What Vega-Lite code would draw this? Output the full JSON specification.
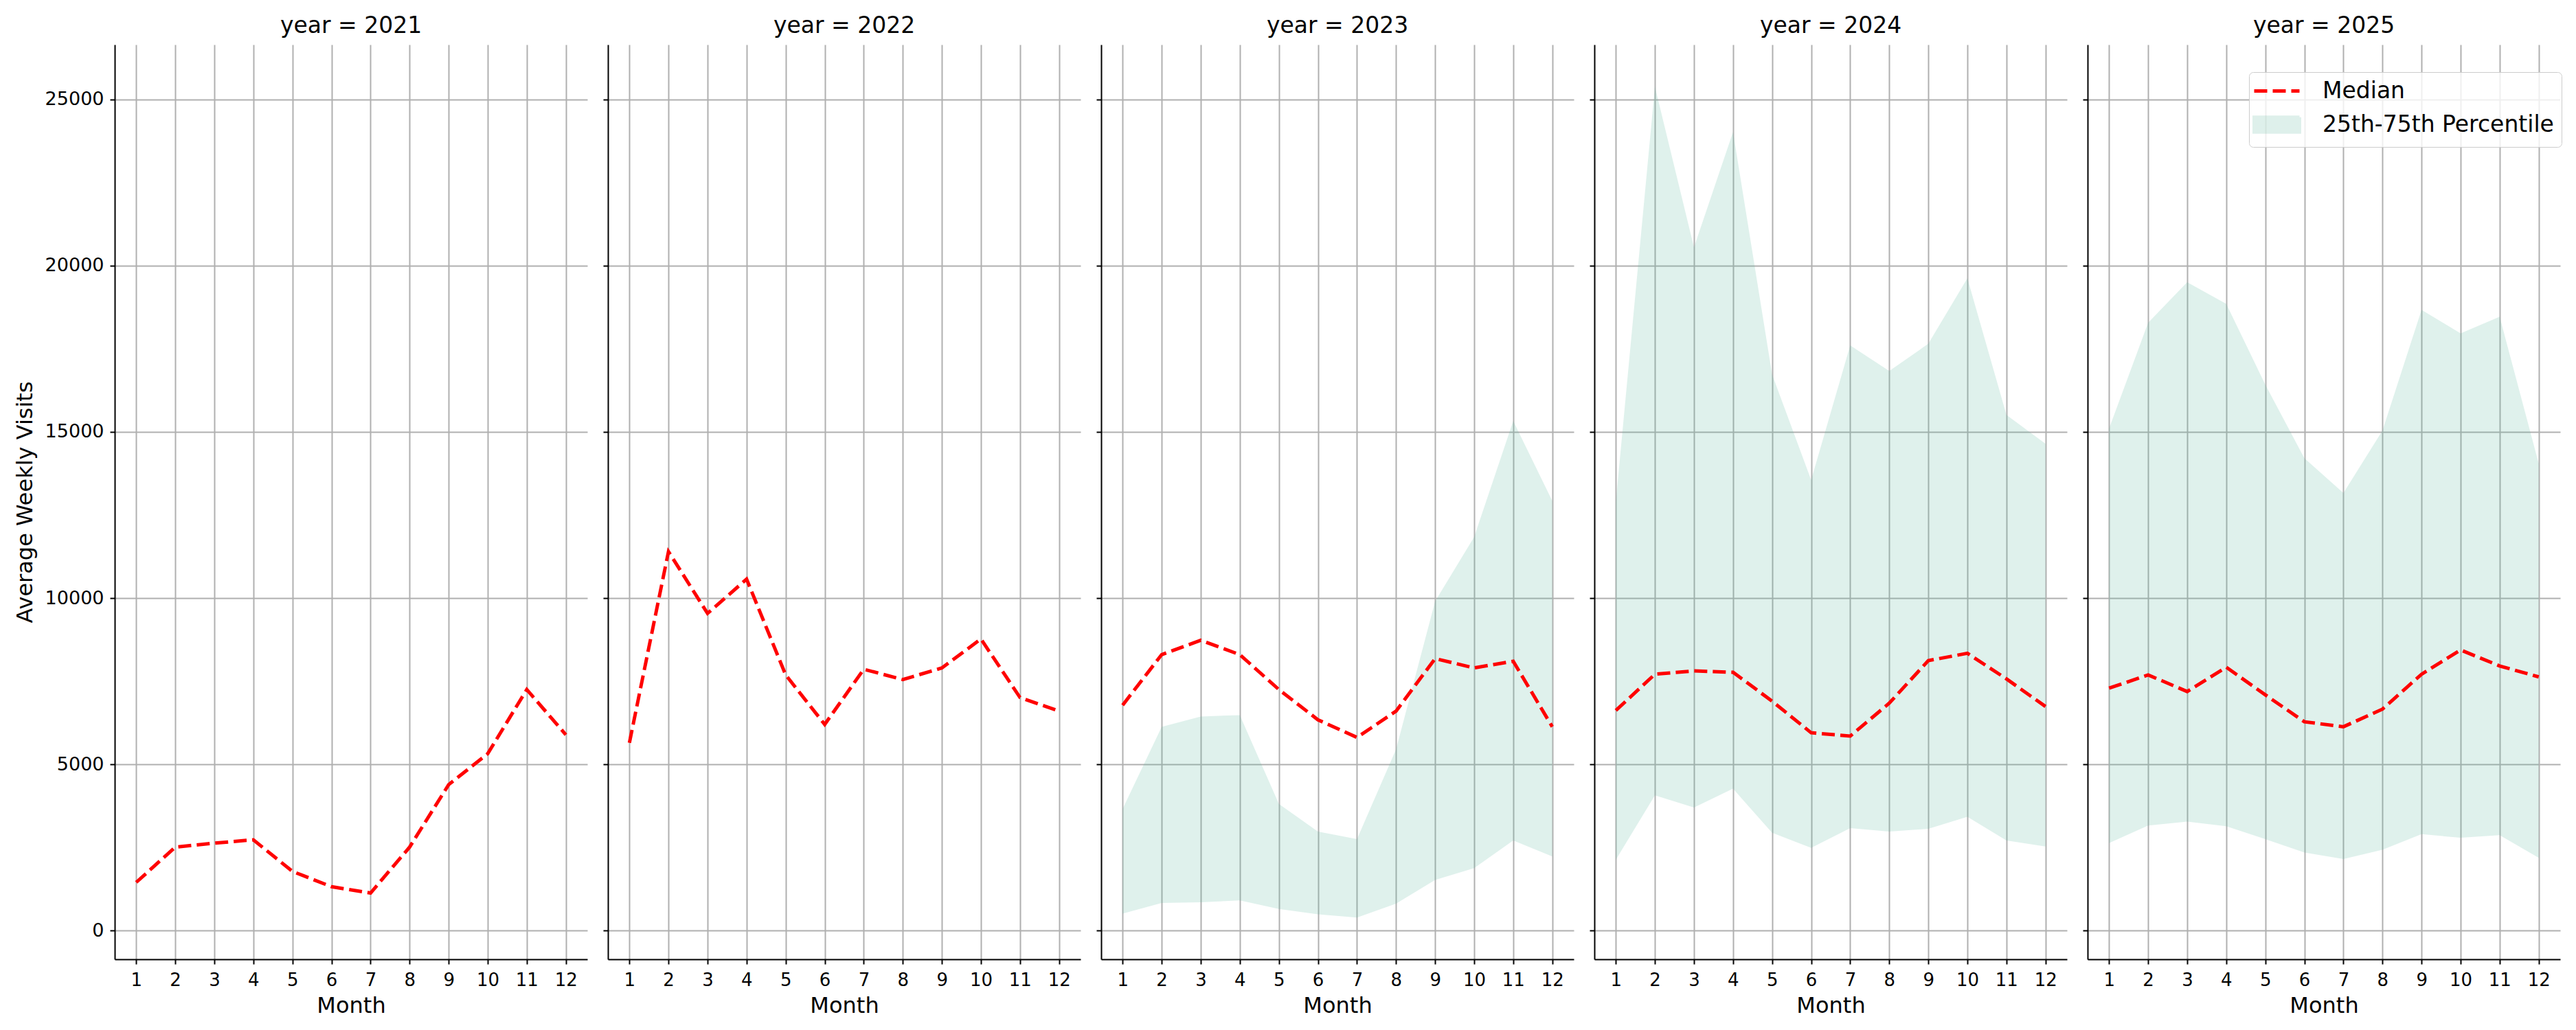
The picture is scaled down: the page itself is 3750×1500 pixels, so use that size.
{
  "$schema": "https://vega.github.io/schema/vega-lite/v6.json",
  "background": "white",
  "padding": {"left": 20, "top": 22, "right": 10, "bottom": 10},
  "spacing": 30,
  "bounds": "flush",
  "data": {
    "values": [
      {"year": 2021, "month": 1, "median": 1450},
      {"year": 2021, "month": 2, "median": 2510},
      {"year": 2021, "month": 3, "median": 2630},
      {"year": 2021, "month": 4, "median": 2730},
      {"year": 2021, "month": 5, "median": 1780},
      {"year": 2021, "month": 6, "median": 1320},
      {"year": 2021, "month": 7, "median": 1130},
      {"year": 2021, "month": 8, "median": 2510},
      {"year": 2021, "month": 9, "median": 4390},
      {"year": 2021, "month": 10, "median": 5320},
      {"year": 2021, "month": 11, "median": 7250},
      {"year": 2021, "month": 12, "median": 5890},
      {"year": 2022, "month": 1, "median": 5650},
      {"year": 2022, "month": 2, "median": 11400},
      {"year": 2022, "month": 3, "median": 9540},
      {"year": 2022, "month": 4, "median": 10570},
      {"year": 2022, "month": 5, "median": 7690},
      {"year": 2022, "month": 6, "median": 6200},
      {"year": 2022, "month": 7, "median": 7860},
      {"year": 2022, "month": 8, "median": 7550},
      {"year": 2022, "month": 9, "median": 7900},
      {"year": 2022, "month": 10, "median": 8770},
      {"year": 2022, "month": 11, "median": 7010},
      {"year": 2022, "month": 12, "median": 6600},
      {"year": 2023, "month": 1, "median": 6780, "p25": 510, "p75": 3660},
      {"year": 2023, "month": 2, "median": 8300, "p25": 830, "p75": 6130},
      {"year": 2023, "month": 3, "median": 8730, "p25": 850, "p75": 6440},
      {"year": 2023, "month": 4, "median": 8300, "p25": 910, "p75": 6480},
      {"year": 2023, "month": 5, "median": 7250, "p25": 650, "p75": 3810},
      {"year": 2023, "month": 6, "median": 6340, "p25": 490, "p75": 2980},
      {"year": 2023, "month": 7, "median": 5810, "p25": 390, "p75": 2750},
      {"year": 2023, "month": 8, "median": 6600, "p25": 810, "p75": 5450},
      {"year": 2023, "month": 9, "median": 8180, "p25": 1520, "p75": 9900},
      {"year": 2023, "month": 10, "median": 7900, "p25": 1880, "p75": 11840},
      {"year": 2023, "month": 11, "median": 8100, "p25": 2710, "p75": 15330},
      {"year": 2023, "month": 12, "median": 6130, "p25": 2230, "p75": 12920},
      {"year": 2024, "month": 1, "median": 6620, "p25": 2130, "p75": 12900},
      {"year": 2024, "month": 2, "median": 7710, "p25": 4070, "p75": 25380},
      {"year": 2024, "month": 3, "median": 7810, "p25": 3700, "p75": 20550},
      {"year": 2024, "month": 4, "median": 7770, "p25": 4270, "p75": 24020},
      {"year": 2024, "month": 5, "median": 6900, "p25": 2940, "p75": 16730},
      {"year": 2024, "month": 6, "median": 5950, "p25": 2490, "p75": 13550},
      {"year": 2024, "month": 7, "median": 5850, "p25": 3080, "p75": 17600},
      {"year": 2024, "month": 8, "median": 6840, "p25": 2980, "p75": 16830},
      {"year": 2024, "month": 9, "median": 8120, "p25": 3060, "p75": 17650},
      {"year": 2024, "month": 10, "median": 8340, "p25": 3420, "p75": 19620},
      {"year": 2024, "month": 11, "median": 7570, "p25": 2710, "p75": 15510},
      {"year": 2024, "month": 12, "median": 6740, "p25": 2530, "p75": 14640},
      {"year": 2025, "month": 1, "median": 7290, "p25": 2630, "p75": 15100},
      {"year": 2025, "month": 2, "median": 7690, "p25": 3160, "p75": 18280},
      {"year": 2025, "month": 3, "median": 7190, "p25": 3280, "p75": 19500},
      {"year": 2025, "month": 4, "median": 7920, "p25": 3140, "p75": 18850},
      {"year": 2025, "month": 5, "median": 7090, "p25": 2750, "p75": 16420},
      {"year": 2025, "month": 6, "median": 6280, "p25": 2350, "p75": 14210},
      {"year": 2025, "month": 7, "median": 6130, "p25": 2150, "p75": 13160},
      {"year": 2025, "month": 8, "median": 6660, "p25": 2430, "p75": 15040},
      {"year": 2025, "month": 9, "median": 7710, "p25": 2900, "p75": 18670},
      {"year": 2025, "month": 10, "median": 8440, "p25": 2790, "p75": 17960},
      {"year": 2025, "month": 11, "median": 7960, "p25": 2870, "p75": 18460},
      {"year": 2025, "month": 12, "median": 7630, "p25": 2190, "p75": 14050}
    ]
  },
  "hconcat": [
    {
      "title": "year = 2021",
      "width": 688,
      "height": 1332,
      "transform": [{"filter": "datum.year === 2021"}],
      "layer": [
        {
          "mark": {"type": "line", "color": "#ff0000", "strokeWidth": 5, "strokeDash": [19, 8]},
          "encoding": {
            "x": {"field": "month", "type": "quantitative", "title": "Month", "scale": {"domain": [0.45, 12.55], "nice": false, "zero": false}, "axis": {"values": [1, 2, 3, 4, 5, 6, 7, 8, 9, 10, 11, 12], "format": "d"}},
            "y": {"field": "median", "type": "quantitative", "title": "Average Weekly Visits", "scale": {"domain": [-863, 26646], "nice": false, "zero": false}, "axis": {"values": [0, 5000, 10000, 15000, 20000, 25000], "format": "d"}}
          }
        }
      ]
    },
    {
      "title": "year = 2022",
      "width": 688,
      "height": 1332,
      "transform": [{"filter": "datum.year === 2022"}],
      "layer": [
        {
          "mark": {"type": "line", "color": "#ff0000", "strokeWidth": 5, "strokeDash": [19, 8]},
          "encoding": {
            "x": {"field": "month", "type": "quantitative", "title": "Month", "scale": {"domain": [0.45, 12.55], "nice": false, "zero": false}, "axis": {"values": [1, 2, 3, 4, 5, 6, 7, 8, 9, 10, 11, 12], "format": "d"}},
            "y": {"field": "median", "type": "quantitative", "title": null, "scale": {"domain": [-863, 26646], "nice": false, "zero": false}, "axis": {"values": [0, 5000, 10000, 15000, 20000, 25000], "labels": false}}
          }
        }
      ]
    },
    {
      "title": "year = 2023",
      "width": 688,
      "height": 1332,
      "transform": [{"filter": "datum.year === 2023"}],
      "layer": [
        {
          "mark": {"type": "area", "color": "#5fb89e", "opacity": 0.2},
          "encoding": {
            "x": {"field": "month", "type": "quantitative", "title": "Month", "scale": {"domain": [0.45, 12.55], "nice": false, "zero": false}, "axis": {"values": [1, 2, 3, 4, 5, 6, 7, 8, 9, 10, 11, 12], "format": "d"}},
            "y": {"field": "p25", "type": "quantitative", "title": null, "scale": {"domain": [-863, 26646], "nice": false, "zero": false}, "axis": {"values": [0, 5000, 10000, 15000, 20000, 25000], "labels": false}},
            "y2": {"field": "p75"}
          }
        },
        {
          "mark": {"type": "line", "color": "#ff0000", "strokeWidth": 5, "strokeDash": [19, 8]},
          "encoding": {
            "x": {"field": "month", "type": "quantitative"},
            "y": {"field": "median", "type": "quantitative"}
          }
        }
      ]
    },
    {
      "title": "year = 2024",
      "width": 688,
      "height": 1332,
      "transform": [{"filter": "datum.year === 2024"}],
      "layer": [
        {
          "mark": {"type": "area", "color": "#5fb89e", "opacity": 0.2},
          "encoding": {
            "x": {"field": "month", "type": "quantitative", "title": "Month", "scale": {"domain": [0.45, 12.55], "nice": false, "zero": false}, "axis": {"values": [1, 2, 3, 4, 5, 6, 7, 8, 9, 10, 11, 12], "format": "d"}},
            "y": {"field": "p25", "type": "quantitative", "title": null, "scale": {"domain": [-863, 26646], "nice": false, "zero": false}, "axis": {"values": [0, 5000, 10000, 15000, 20000, 25000], "labels": false}},
            "y2": {"field": "p75"}
          }
        },
        {
          "mark": {"type": "line", "color": "#ff0000", "strokeWidth": 5, "strokeDash": [19, 8]},
          "encoding": {
            "x": {"field": "month", "type": "quantitative"},
            "y": {"field": "median", "type": "quantitative"}
          }
        }
      ]
    },
    {
      "title": "year = 2025",
      "width": 688,
      "height": 1332,
      "transform": [{"filter": "datum.year === 2025"}],
      "layer": [
        {
          "mark": {"type": "area", "opacity": 0.2},
          "encoding": {
            "x": {"field": "month", "type": "quantitative", "title": "Month", "scale": {"domain": [0.45, 12.55], "nice": false, "zero": false}, "axis": {"values": [1, 2, 3, 4, 5, 6, 7, 8, 9, 10, 11, 12], "format": "d"}},
            "y": {"field": "p25", "type": "quantitative", "title": null, "scale": {"domain": [-863, 26646], "nice": false, "zero": false}, "axis": {"values": [0, 5000, 10000, 15000, 20000, 25000], "labels": false}},
            "y2": {"field": "p75"},
            "color": {
              "datum": "25th-75th Percentile",
              "scale": {"domain": ["Median", "25th-75th Percentile"], "range": ["#ff0000", "#5fb89e"]},
              "legend": {
                "title": null,
                "orient": "none",
                "legendX": 235,
                "legendY": 40,
                "padding": 11,
                "cornerRadius": 6,
                "strokeColor": "#cccccc",
                "fillColor": "rgba(255,255,255,0.8)",
                "labelFont": "DejaVu Sans",
                "labelFontSize": 33,
                "labelColor": "black",
                "labelLimit": 0,
                "labelOffset": 50,
                "symbolOffset": 13,
                "symbolSize": 576,
                "rowPadding": 10,
                "encoding": {
                  "symbols": {
                    "shape": {"condition": {"test": "datum.value === 'Median'", "value": "M-2.75,0H2.75"}, "value": "M-2.75,-0.9H2.75V0.9H-2.75Z"},
                    "stroke": {"condition": {"test": "datum.value === 'Median'", "value": "#ff0000"}, "value": "transparent"},
                    "fill": {"condition": {"test": "datum.value === 'Median'", "value": "transparent"}, "value": "#5fb89e"},
                    "opacity": {"condition": {"test": "datum.value === 'Median'", "value": 1}, "value": 0.2},
                    "strokeDash": {"condition": {"test": "datum.value === 'Median'", "value": [19, 8]}, "value": [1, 0]},
                    "strokeWidth": {"value": 5}
                  }
                }
              }
            }
          }
        },
        {
          "mark": {"type": "line", "strokeWidth": 5, "strokeDash": [19, 8]},
          "encoding": {
            "x": {"field": "month", "type": "quantitative"},
            "y": {"field": "median", "type": "quantitative"},
            "color": {"datum": "Median"}
          }
        }
      ]
    }
  ],
  "resolve": {"legend": {"color": "independent"}},
  "config": {
    "view": {"stroke": null},
    "font": "DejaVu Sans",
    "title": {"fontSize": 33, "fontWeight": "normal", "font": "DejaVu Sans", "color": "black", "anchor": "middle", "offset": 10},
    "axis": {
      "labelFont": "DejaVu Sans",
      "titleFont": "DejaVu Sans",
      "labelFontSize": 27,
      "titleFontSize": 32,
      "titleFontWeight": "normal",
      "labelColor": "black",
      "titleColor": "black",
      "domainColor": "black",
      "domainWidth": 2,
      "tickColor": "black",
      "tickWidth": 2,
      "tickSize": 7,
      "grid": true,
      "gridColor": "#b0b0b0",
      "gridWidth": 2,
      "gridOpacity": 1,
      "labelPadding": 9
    },
    "axisX": {"labelAngle": 0, "labelFontSize": 26, "labelPadding": 10, "titlePadding": 9},
    "axisY": {"titlePadding": 12}
  }
}
